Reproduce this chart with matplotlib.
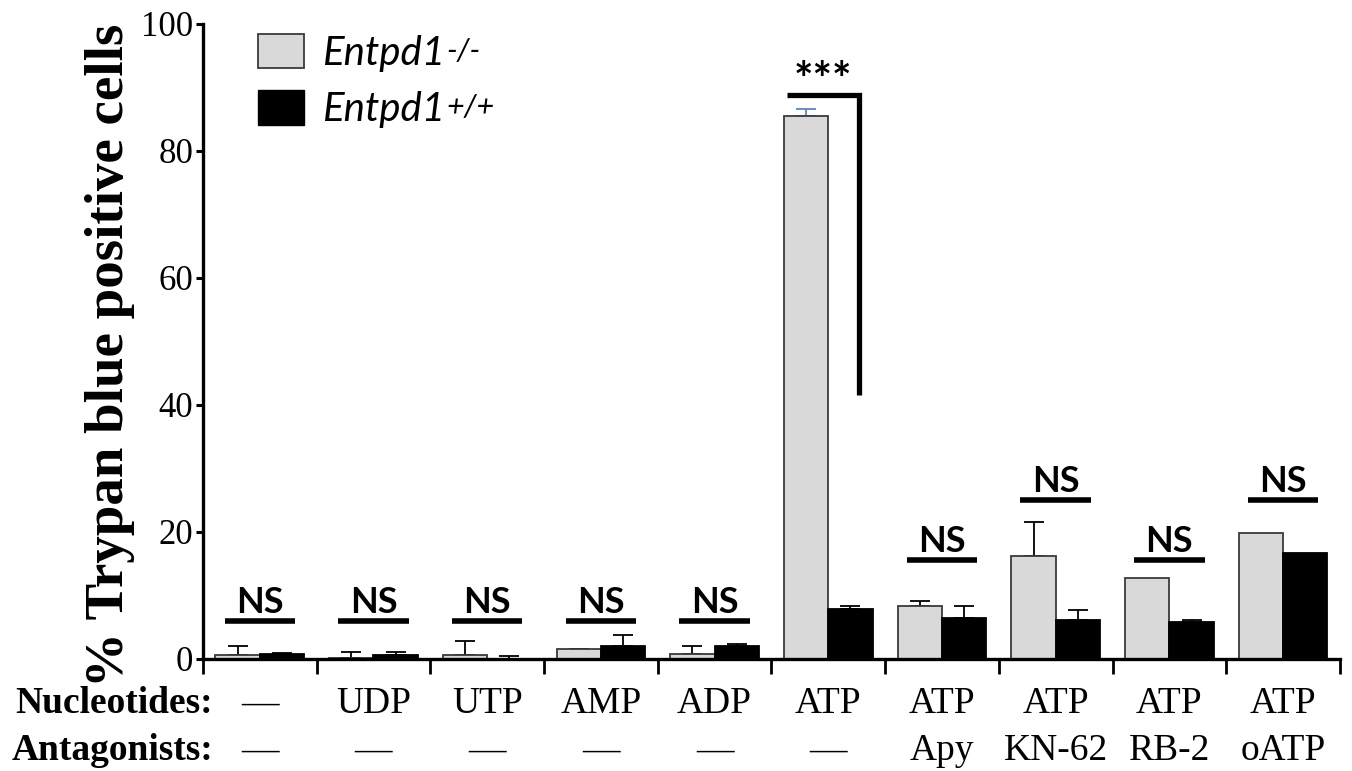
import numpy as np
import matplotlib.pyplot as plt
from matplotlib.patches import Patch

## DATA
#
nucleotides = ['—', 'UDP', 'UTP', 'AMP', 'ADP', 'ATP', 'ATP', 'ATP', 'ATP', 'ATP']
antagonists = ['—', '—', '—', '—', '—', '—', 'Apy', 'KN-62', 'RB-2', 'oATP']
ko = [0.7, 0.1, 0.6, 1.5, 0.8, 85.5, 8.3, 16.2, 12.8, 19.9]      # Entpd1-/-
ko_err = [1.4, 1.0, 2.2, 0.1, 1.3, 1.1, 0.8, 5.4, 0.0, 0.0]
wt = [0.8, 0.6, 0.05, 2.1, 2.1, 7.8, 6.4, 6.2, 5.9, 16.7]        # Entpd1+/+
wt_err = [0.2, 0.5, 0.35, 1.7, 0.3, 0.5, 1.9, 1.5, 0.2, 0.0]
ns_level = [6.0, 6.0, 6.0, 6.0, 6.0, None, 15.6, 25.0, 15.6, 25.0]
genotypes = ['-/-', '+/+']

## FIGURE
#
fig = plt.figure(figsize=(13.52, 7.71), dpi=100)
ax = fig.add_axes([0.1501, 0.1453, 0.8410, 0.8236])

n = len(ko)
x = np.arange(n) + 0.5
w = 0.39
grey = '#d9d9d9'

ax.bar(x - w/2, ko, w, color=grey, edgecolor='#3a3a3a', linewidth=1.3, zorder=2)
ax.bar(x + w/2, wt, w, color='black', edgecolor='black', linewidth=1.3, zorder=2)

# upper error bars only
ko_colors = ['black'] * n
ko_colors[5] = '#5b86c5'
for i in range(n):
    if ko_err[i] > 0:
        ax.errorbar(x[i] - w/2, ko[i], yerr=[[0], [ko_err[i]]], fmt='none',
                    ecolor=ko_colors[i], elinewidth=1.3, capsize=7, capthick=1.3, zorder=1)
    if wt_err[i] > 0:
        ax.errorbar(x[i] + w/2, wt[i], yerr=[[0], [wt_err[i]]], fmt='none',
                    ecolor='black', elinewidth=1.3, capsize=7, capthick=1.3, zorder=1)

# NS markers
for i in range(n):
    if ns_level[i] is None:
        continue
    ax.hlines(ns_level[i], x[i] - 0.31, x[i] + 0.31, color='black', linewidth=4)
    ax.text(x[i], ns_level[i] + 1.3, 'NS', ha='center', va='baseline',
            fontsize=26, fontweight='bold', family='Lato')

# significance bracket for ATP
ax.plot([5.136, 5.77, 5.77], [88.8, 88.8, 41.5], color='black', linewidth=3.8,
        solid_joinstyle='miter', solid_capstyle='butt')
ax.text(5.45, 87.6, '***', ha='center', va='bottom', fontsize=33,
        fontweight='bold', family='Lato')

## AXES
#
ax.set_xlim(0, n)
ax.set_ylim(0, 100)
ax.set_xticks(np.arange(n + 1))
ax.set_xticklabels([])
ax.set_yticks(np.arange(0, 101, 20))
ax.tick_params(axis='y', direction='out', length=5, width=2.2, labelsize=25, pad=2)
ax.tick_params(axis='x', direction='out', length=11, width=2)
for lab in ax.get_yticklabels():
    lab.set_family('Liberation Serif')
for s in ['top', 'right']:
    ax.spines[s].set_visible(False)
for s in ['left', 'bottom']:
    ax.spines[s].set_linewidth(2.4)

ax.set_ylabel('% Trypan blue positive cells', family='Liberation Serif',
              fontweight='bold', fontsize=39.5)
ax.yaxis.set_label_coords(-0.060, 0.478)

# category labels under the axis
for i in range(n):
    ax.text(x[i], -8.5, nucleotides[i], ha='center', va='baseline', fontsize=27,
            family='Liberation Serif', clip_on=False)
    ax.text(x[i], -15.9, antagonists[i], ha='center', va='baseline', fontsize=27,
            family='Liberation Serif', clip_on=False)
ax.text(0.088, -8.5, 'Nucleotides:', ha='right', va='baseline', fontsize=27,
        family='Liberation Serif', fontweight='bold', clip_on=False)
ax.text(0.088, -15.9, 'Antagonists:', ha='right', va='baseline', fontsize=27,
        family='Liberation Serif', fontweight='bold', clip_on=False)

# legend
handles = [Patch(facecolor=grey, edgecolor='#3a3a3a', linewidth=1.3),
           Patch(facecolor='black', edgecolor='black')]
leg = ax.legend(handles, ['Entpd1', 'Entpd1'], loc='upper left',
                bbox_to_anchor=(0.0484, 0.985), frameon=False,
                prop={'family': 'Lato', 'style': 'italic', 'size': 29},
                handlelength=1.15, handleheight=0.95, handletextpad=0.45,
                labelspacing=0.45, borderpad=0, borderaxespad=0)

# superscripts after the legend text
fig.canvas.draw()
W, H = fig.bbox.width, fig.bbox.height
for t, sup in zip(leg.get_texts(), genotypes):
    bb = t.get_window_extent()
    fig.text((bb.x1 + 1) / W, (bb.y1 - 2) / H, sup, ha='left', va='top',
             fontsize=22, family='Lato', style='italic')

plt.savefig('out.png', dpi=100)
